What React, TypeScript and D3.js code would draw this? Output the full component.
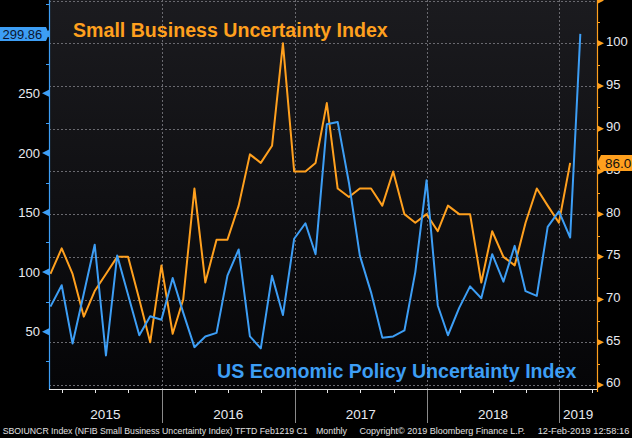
import { useEffect, useRef } from "react";
import * as d3 from "d3";

// monthly observations, first one is Feb 2015 (plotted at month end)
const START_MONTH = new Date(2015, 1, 1);

const policyUncertainty = [
  71, 89, 40, 82, 123, 30, 114, 81, 47, 63, 60, 95, 66, 37, 46, 49, 97, 119,
  46, 36, 97, 64, 128, 141, 115, 224, 226, 175, 114, 83, 45, 46, 51, 100, 177,
  72, 47, 70, 88, 78, 115, 92, 122, 84, 80, 138, 151, 129, 299.86,
];
const smallBizUncertainty = [
  73, 76, 73, 68, 71, 73, 75, 75, 70, 65, 74, 66, 70, 83, 72, 77, 77, 81, 87,
  86, 88, 100, 85, 85, 86, 93, 83, 82, 83, 83, 81, 85, 80, 79, 80, 78, 81, 80,
  80, 72, 78, 75, 74, 79, 83, 81, 79, 86,
];

const years = [2015, 2016, 2017, 2018, 2019];
const leftTicks = [50, 100, 150, 200, 250, 300];
const leftMinor = [25, 75, 125, 175, 225, 275, 325];
const rightTicks = [60, 65, 70, 75, 80, 85, 90, 95, 100, 105];
const rightMinor = [62.5, 67.5, 72.5, 77.5, 82.5, 87.5, 92.5, 97.5, 102.5];

const ORANGE = "#ffa01e";
const BLUE = "#3d9ef5";
const W = 632;
const H = 438;

type Pt = { date: Date; v: number };
const monthEnd = (i: number) =>
  d3.timeDay.offset(d3.timeMonth.offset(START_MONTH, i + 1), -1);

export default function App() {
  const ref = useRef<SVGSVGElement | null>(null);

  useEffect(() => {
    const svg = d3.select(ref.current);
    svg.selectAll("*").remove();

    const left = 49;
    const right = 597;
    const top = 0;
    const bottom = 389;

    const x = d3
      .scaleTime()
      .domain([new Date(2015, 1, 24), new Date(2019, 3, 15)])
      .range([left, right]);
    const yL = d3.scaleLinear().domain([1.9, 328.3]).range([bottom, top]);
    const yR = d3.scaleLinear().domain([59.53, 105.07]).range([bottom, top]);

    svg.attr("viewBox", `0 0 ${W} ${H}`);

    const defs = svg.append("defs");
    const grad = defs
      .append("linearGradient")
      .attr("id", "bg")
      .attr("x1", 0)
      .attr("y1", 0)
      .attr("x2", 0)
      .attr("y2", 1);
    grad.append("stop").attr("offset", "0%").attr("stop-color", "#1b1b1f");
    grad.append("stop").attr("offset", "100%").attr("stop-color", "#050507");

    svg.append("rect").attr("width", W).attr("height", H).attr("fill", "#000");
    svg
      .append("rect")
      .attr("x", left)
      .attr("y", top)
      .attr("width", right - left)
      .attr("height", bottom - top)
      .attr("fill", "url(#bg)");

    // Gridlines (follow the right axis)
    const grid = svg.append("g").attr("stroke", "#6a6a70").attr("stroke-dasharray", "2 2");
    rightTicks.forEach((t) => {
      grid
        .append("line")
        .attr("x1", left)
        .attr("x2", right)
        .attr("y1", Math.round(yR(t)) + 0.5)
        .attr("y2", Math.round(yR(t)) + 0.5);
    });
    years.slice(1).forEach((yr) => {
      const xx = Math.round(x(new Date(yr, 0, 1))) + 0.5;
      grid.append("line").attr("x1", xx).attr("x2", xx).attr("y1", top).attr("y2", bottom);
      svg
        .append("line")
        .attr("x1", xx)
        .attr("x2", xx)
        .attr("y1", bottom)
        .attr("y2", 423)
        .attr("stroke", "#8a8a8a");
    });

    // Series
    const sbData: Pt[] = smallBizUncertainty.map((v, i) => ({ date: monthEnd(i), v }));
    const epuData: Pt[] = policyUncertainty.map((v, i) => ({ date: monthEnd(i), v }));

    svg
      .append("path")
      .datum(sbData)
      .attr("fill", "none")
      .attr("stroke", ORANGE)
      .attr("stroke-width", 2)
      .attr("stroke-linejoin", "round")
      .attr(
        "d",
        d3
          .line<Pt>()
          .x((d) => x(d.date))
          .y((d) => yR(d.v)),
      );
    svg
      .append("path")
      .datum(epuData)
      .attr("fill", "none")
      .attr("stroke", BLUE)
      .attr("stroke-width", 2)
      .attr("stroke-linejoin", "round")
      .attr(
        "d",
        d3
          .line<Pt>()
          .x((d) => x(d.date))
          .y((d) => yL(d.v)),
      );

    const font = "'Liberation Sans', Arial, sans-serif";

    // Titles
    svg
      .append("text")
      .attr("x", 73)
      .attr("y", 36.7)
      .attr("font-family", font)
      .attr("font-weight", "bold")
      .attr("font-size", 19.6)
      .attr("fill", ORANGE)
      .text("Small Business Uncertainty Index");
    svg
      .append("text")
      .attr("x", 217)
      .attr("y", 378.3)
      .attr("font-family", font)
      .attr("font-weight", "bold")
      .attr("font-size", 19.6)
      .attr("fill", BLUE)
      .text("US Economic Policy Uncertainty Index");

    // Left axis
    svg
      .append("line")
      .attr("x1", left + 0.5)
      .attr("x2", left + 0.5)
      .attr("y1", top)
      .attr("y2", bottom)
      .attr("stroke", BLUE)
      .attr("stroke-width", 1.2);
    leftMinor.forEach((t) => {
      const yy = Math.round(yL(t)) + 0.5;
      svg.append("line").attr("x1", left - 3).attr("x2", left).attr("y1", yy).attr("y2", yy).attr("stroke", BLUE);
    });
    leftTicks.forEach((t) => {
      const yy = yL(t);
      svg
        .append("path")
        .attr("d", `M${left},${yy - 3.5}L${left},${yy + 3.5}L${left - 7},${yy}Z`)
        .attr("fill", BLUE);
      // the 300 label sits under the last-value tag
      if (t < 300) {
        svg
          .append("text")
          .attr("x", 40)
          .attr("y", yy + 4.6)
          .attr("text-anchor", "end")
          .attr("font-family", font)
          .attr("font-size", 13)
          .attr("fill", "#e8eaf0")
          .text(t);
      }
    });

    // Right axis
    svg
      .append("line")
      .attr("x1", right + 0.5)
      .attr("x2", right + 0.5)
      .attr("y1", top)
      .attr("y2", bottom + 3)
      .attr("stroke", ORANGE)
      .attr("stroke-width", 1.2);
    rightMinor.forEach((t) => {
      const yy = Math.round(yR(t)) + 0.5;
      svg.append("line").attr("x1", right).attr("x2", right + 3).attr("y1", yy).attr("y2", yy).attr("stroke", ORANGE);
    });
    rightTicks.forEach((t) => {
      const yy = yR(t);
      svg
        .append("path")
        .attr("d", `M${right},${yy - 3.5}L${right},${yy + 3.5}L${right + 7},${yy}Z`)
        .attr("fill", ORANGE);
      if (t <= 100) {
        svg
          .append("text")
          .attr("x", 606)
          .attr("y", yy + 2.5)
          .attr("font-family", font)
          .attr("font-size", 13)
          .attr("fill", "#e8eaf0")
          .text(t);
      }
    });

    // Bottom axis
    svg
      .append("line")
      .attr("x1", left)
      .attr("x2", right)
      .attr("y1", bottom + 0.5)
      .attr("y2", bottom + 0.5)
      .attr("stroke", "#e8e8e8")
      .attr("stroke-width", 1.2);
    const quarters = d3
      .timeMonth
      .every(3)!
      .range(x.domain()[0], x.domain()[1])
      .filter((d) => d.getMonth() !== 0);
    quarters.forEach((q) => {
      const xx = Math.round(x(q)) + 0.5;
      svg.append("line").attr("x1", xx).attr("x2", xx).attr("y1", bottom).attr("y2", bottom + 4).attr("stroke", "#e8e8e8");
    });
    const [d0, d1] = x.domain();
    years.forEach((yr) => {
      const a = Math.max(+new Date(yr, 0, 1), +d0);
      const b = Math.min(+new Date(yr + 1, 0, 1), +d1);
      svg
        .append("text")
        .attr("x", (x(new Date(a)) + x(new Date(b))) / 2)
        .attr("y", 419.3)
        .attr("text-anchor", "middle")
        .attr("font-family", font)
        .attr("font-size", 13.5)
        .attr("fill", "#e8eaf0")
        .text(yr);
    });

    // Last value tags
    const lastL = policyUncertainty[policyUncertainty.length - 1];
    const yl = yL(lastL);
    svg
      .append("path")
      .attr("d", `M0,${yl - 7}L46,${yl - 7}L${left},${yl}L46,${yl + 7}L0,${yl + 7}Z`)
      .attr("fill", BLUE);
    svg
      .append("text")
      .attr("x", 2.5)
      .attr("y", yl + 4.8)
      .attr("font-family", font)
      .attr("font-size", 13)
      .attr("fill", "#0b1630")
      .text(d3.format(".2f")(lastL));

    const lastR = smallBizUncertainty[smallBizUncertainty.length - 1];
    const yr2 = yR(lastR);
    svg
      .append("path")
      .attr("d", `M${right},${yr2}L${right + 4},${yr2 - 8}L${W},${yr2 - 8}L${W},${yr2 + 8}L${right + 4},${yr2 + 8}Z`)
      .attr("fill", ORANGE);
    svg
      .append("text")
      .attr("x", 605)
      .attr("y", yr2 + 5)
      .attr("font-family", font)
      .attr("font-size", 13.5)
      .attr("fill", "#111")
      .text(d3.format(".1f")(lastR));

    // Footer
    const foot = [
      { t: "SBOIUNCR Index (NFIB Small Business Uncertainty Index) TFTD Feb1219 C1", x: 2.7, w: 305 },
      { t: "Monthly", x: 316, w: 31 },
      { t: "Copyright\u00a9 2019 Bloomberg Finance L.P.", x: 359.5, w: 165.5 },
      { t: "12-Feb-2019 12:58:16", x: 537.7, w: 91.6 },
    ];
    foot.forEach((f) => {
      svg
        .append("text")
        .attr("x", f.x)
        .attr("y", 434)
        .attr("font-family", font)
        .attr("font-size", 9)
        .attr("fill", "#e0e0e0")
        .attr("textLength", f.w)
        .attr("lengthAdjust", "spacingAndGlyphs")
        .text(f.t);
    });
  }, []);

  return (
    <svg
      ref={ref}
      width={W}
      height={H}
      style={{ position: "absolute", left: 0, top: 0, display: "block" }}
    />
  );
}
